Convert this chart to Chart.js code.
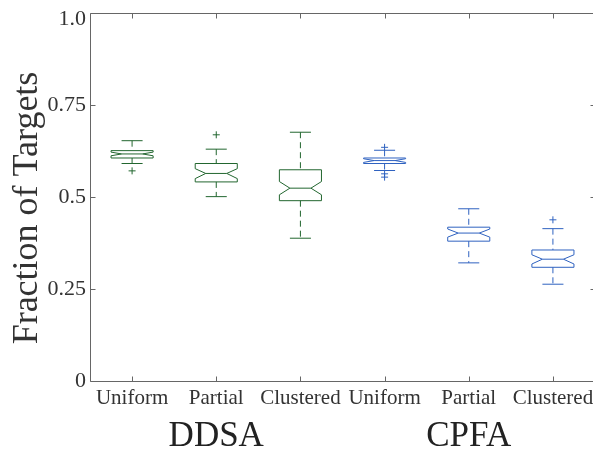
<!DOCTYPE html>
<html>
<head>
<meta charset="utf-8">
<script src="https://cdn.jsdelivr.net/npm/chart.js@4"></script>
<style>
  html, body { margin: 0; padding: 0; overflow: hidden; background: #fff; }
  canvas { display: block; }
</style>
</head>
<body>
<canvas id="myChart" width="600" height="450"></canvas>
<script>
// categories and groups
var categories = ["Uniform", "Partial", "Clustered", "Uniform", "Partial", "Clustered"];
var groups = ["DDSA", "CPFA"];
var groupCenters = [2, 5];
var yTicks = [0, 0.25, 0.5, 0.75, 1.0];

// box plot values
var whiskerHigh = [0.653, 0.630, 0.676, 0.627, 0.468, 0.414];
var q3 = [0.626, 0.591, 0.574, 0.606, 0.418, 0.356];
var median = [0.617, 0.564, 0.524, 0.599, 0.402, 0.331];
var q1 = [0.606, 0.541, 0.490, 0.591, 0.380, 0.309];
var whiskerLow = [0.591, 0.501, 0.388, 0.572, 0.321, 0.263];
var notchHigh = [0.622, 0.577, 0.542, 0.604, 0.413, 0.343];
var notchLow = [0.612, 0.550, 0.506, 0.594, 0.391, 0.318];
var outliers = [[0.571], [0.669], [], [0.635, 0.563, 0.554], [], [0.438]];

var green = "#22662f";
var blue = "#2f62c0";
var boxColors = [green, green, green, blue, blue, blue];
var serif = "'Liberation Serif', 'DejaVu Serif', serif";

var outlierPoints = [];
var outlierColors = [];
outliers.forEach(function (list, i) {
  list.forEach(function (v) {
    outlierPoints.push({ x: i + 1, y: v });
    outlierColors.push(boxColors[i]);
  });
});

var boxPlugin = {
  id: "boxes",
  beforeDatasetsDraw: function (chart) {
    var ctx = chart.ctx;
    var xs = chart.scales.x, ys = chart.scales.y;
    var halfW = xs.getPixelForValue(1.25) - xs.getPixelForValue(1);
    for (var i = 0; i < categories.length; i++) {
      var cx = xs.getPixelForValue(i + 1);
      var Y = function (v) { return ys.getPixelForValue(v); };
      ctx.save();
      ctx.strokeStyle = boxColors[i];
      ctx.lineWidth = 1;
      // whiskers (dashed)
      ctx.setLineDash([6, 4]);
      ctx.beginPath();
      ctx.moveTo(cx, Y(whiskerHigh[i]));
      ctx.lineTo(cx, Y(q3[i]));
      ctx.moveTo(cx, Y(q1[i]));
      ctx.lineTo(cx, Y(whiskerLow[i]));
      ctx.stroke();
      ctx.setLineDash([]);
      // caps
      ctx.beginPath();
      ctx.moveTo(cx - halfW / 2, Y(whiskerHigh[i]));
      ctx.lineTo(cx + halfW / 2, Y(whiskerHigh[i]));
      ctx.moveTo(cx - halfW / 2, Y(whiskerLow[i]));
      ctx.lineTo(cx + halfW / 2, Y(whiskerLow[i]));
      ctx.stroke();
      // notched box
      ctx.beginPath();
      ctx.moveTo(cx - halfW, Y(q1[i]));
      ctx.lineTo(cx - halfW, Y(notchLow[i]));
      ctx.lineTo(cx - halfW / 2, Y(median[i]));
      ctx.lineTo(cx - halfW, Y(notchHigh[i]));
      ctx.lineTo(cx - halfW, Y(q3[i]));
      ctx.lineTo(cx + halfW, Y(q3[i]));
      ctx.lineTo(cx + halfW, Y(notchHigh[i]));
      ctx.lineTo(cx + halfW / 2, Y(median[i]));
      ctx.lineTo(cx + halfW, Y(notchLow[i]));
      ctx.lineTo(cx + halfW, Y(q1[i]));
      ctx.closePath();
      ctx.stroke();
      // median
      ctx.beginPath();
      ctx.moveTo(cx - halfW / 2, Y(median[i]));
      ctx.lineTo(cx + halfW / 2, Y(median[i]));
      ctx.stroke();
      ctx.restore();
    }
  },
  afterDraw: function (chart) {
    var ctx = chart.ctx;
    var a = chart.chartArea;
    var xs = chart.scales.x, ys = chart.scales.y;
    var L = Math.round(a.left) + 0.5, R = Math.round(a.right) + 0.5;
    var T = Math.round(a.top) + 0.5, B = Math.round(a.bottom) + 0.5;
    ctx.save();
    ctx.strokeStyle = "#666";
    ctx.lineWidth = 1;
    // axes frame: left, top, bottom (right edge falls outside the window)
    ctx.beginPath();
    ctx.moveTo(R, T); ctx.lineTo(L, T); ctx.lineTo(L, B); ctx.lineTo(R, B);
    for (var i = 1; i <= categories.length; i++) {
      var x = Math.round(xs.getPixelForValue(i)) + 0.5;
      ctx.moveTo(x, B); ctx.lineTo(x, B - 5);
      ctx.moveTo(x, T); ctx.lineTo(x, T + 5);
    }
    yTicks.forEach(function (v) {
      var y = Math.round(ys.getPixelForValue(v)) + 0.5;
      ctx.moveTo(L, y); ctx.lineTo(L + 5, y);
      ctx.moveTo(R, y); ctx.lineTo(R - 5, y);
    });
    ctx.stroke();

    // y axis title
    ctx.fillStyle = "#333";
    ctx.font = "36px " + serif;
    ctx.textAlign = "center";
    ctx.textBaseline = "alphabetic";
    ctx.save();
    ctx.translate(37, (a.top + a.bottom) / 2 + 11);
    ctx.rotate(-Math.PI / 2);
    ctx.fillText("Fraction of Targets", 0, 0);
    ctx.restore();

    // group labels
    ctx.fillStyle = "#222";
    ctx.font = "35px " + serif;
    groups.forEach(function (g, k) {
      ctx.fillText(g, xs.getPixelForValue(groupCenters[k]), 446);
    });
    ctx.restore();
  }
};

function noPadding(s) {
  s.paddingTop = 0;
  s.paddingBottom = 0;
  s.paddingLeft = 0;
  s.paddingRight = 0;
}

new Chart("myChart", {
  type: "scatter",
  data: {
    datasets: [{
      data: outlierPoints,
      pointStyle: "cross",
      radius: 3.5,
      borderWidth: 1,
      borderColor: outlierColors,
      backgroundColor: outlierColors
    }]
  },
  options: {
    responsive: false,
    animation: false,
    layout: { padding: { top: 13, right: 4, left: 0, bottom: 0 } },
    plugins: {
      legend: { display: false },
      tooltip: { enabled: false }
    },
    scales: {
      x: {
        type: "linear",
        min: 0.5,
        max: 6.5,
        grid: { display: false, drawTicks: false },
        border: { display: false },
        afterBuildTicks: function (s) {
          s.ticks = categories.map(function (c, i) { return { value: i + 1 }; });
        },
        afterFit: function (s) { s.height = 69; noPadding(s); },
        ticks: {
          autoSkip: false,
          maxRotation: 0,
          padding: 5,
          color: "#333",
          font: { family: serif, size: 21 },
          callback: function (v) { return categories[Math.round(v) - 1]; }
        }
      },
      y: {
        min: 0,
        max: 1,
        grid: { display: false, drawTicks: false },
        border: { display: false },
        afterBuildTicks: function (s) {
          s.ticks = yTicks.map(function (v) { return { value: v }; });
        },
        afterFit: function (s) { s.width = 90; noPadding(s); },
        ticks: {
          padding: 4,
          color: "#333",
          font: function (c) {
            // the top label sits a little below its tick, as in the original
            var top = c.tick && c.tick.value === 1;
            return { family: serif, size: 22, lineHeight: top ? 0.55 : 1.2 };
          },
          callback: function (v) { return v === 1 ? ["", "1.0"] : String(v); }
        }
      }
    }
  },
  plugins: [boxPlugin]
});
</script>
</body>
</html>
